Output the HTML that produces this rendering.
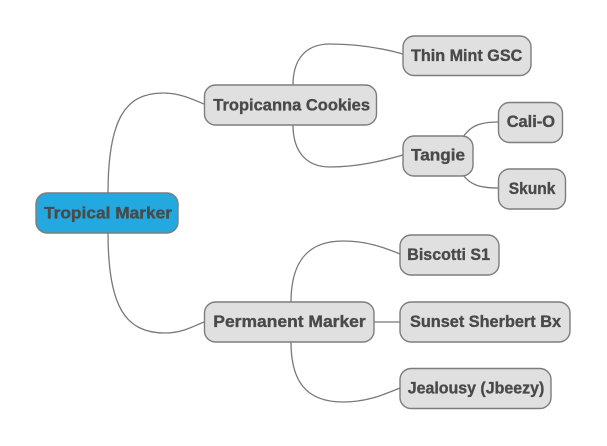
<!DOCTYPE html>
<html><head><meta charset="utf-8"><style>
html,body{margin:0;padding:0;background:#fff;}
svg{display:block;}
text{font-family:"Liberation Sans",sans-serif;font-weight:bold;font-size:16.5px;fill:#4a4a4a;stroke:#4a4a4a;stroke-width:0.35;}
</style></head><body>
<svg width="607" height="446" viewBox="0 0 607 446" xmlns="http://www.w3.org/2000/svg">
<g fill="none" stroke="#787878" stroke-width="1.3">
<path d="M108,193 C108,120 125,93 163,93 C182,93 196,101 204,104"/>
<path d="M108,233 C108,306 125,333 165,333 C183,333 196,325 204,322"/>
<path d="M293,85 C293,60 305,44 330,44 C360,44 385,49 403,54"/>
<path d="M293,125 C293,150 305,167 330,167 C360,167 385,160 403,155"/>
<path d="M463,137 C470,127 478,122 498,122"/>
<path d="M463,175 C470,184 478,188 498,188"/>
<path d="M291,302 C291,265 305,241 343,241 C368,241 385,248 400,254"/>
<path d="M291,342 C291,380 305,402 343,402 C368,402 385,394 400,388"/>
<path d="M374,322 L400,322"/>
</g>
<g stroke="#7d7d7d" stroke-width="1.4">
<rect x="36" y="193" width="142" height="40" rx="11" fill="#23a8df"/>
<rect x="204.5" y="85" width="172" height="40" rx="11" fill="#e0e0e0"/>
<rect x="403" y="36" width="128" height="39.5" rx="11" fill="#e0e0e0"/>
<rect x="403" y="136" width="70" height="40" rx="11" fill="#e0e0e0"/>
<rect x="498.5" y="102.5" width="64" height="40" rx="11" fill="#e0e0e0"/>
<rect x="498.5" y="169" width="67" height="40" rx="11" fill="#e0e0e0"/>
<rect x="204.5" y="302" width="169.5" height="40" rx="11" fill="#e0e0e0"/>
<rect x="400" y="235" width="99" height="40" rx="11" fill="#e0e0e0"/>
<rect x="400" y="302" width="170" height="40" rx="11" fill="#e0e0e0"/>
<rect x="400" y="368.5" width="151" height="40" rx="11" fill="#e0e0e0"/>
</g>
<text x="44" y="218.5" textLength="128" lengthAdjust="spacingAndGlyphs">Tropical Marker</text>
<text x="213.3" y="110.5" textLength="156.7" lengthAdjust="spacingAndGlyphs">Tropicanna Cookies</text>
<text x="411" y="61" textLength="111.3" lengthAdjust="spacingAndGlyphs">Thin Mint GSC</text>
<text x="411" y="160.5" textLength="54" lengthAdjust="spacingAndGlyphs">Tangie</text>
<text x="506.7" y="127.2" textLength="48.3" lengthAdjust="spacingAndGlyphs">Cali-O</text>
<text x="508.7" y="194" textLength="46.7" lengthAdjust="spacingAndGlyphs">Skunk</text>
<text x="213.3" y="327" textLength="152.4" lengthAdjust="spacingAndGlyphs">Permanent Marker</text>
<text x="407.3" y="260" textLength="82.7" lengthAdjust="spacingAndGlyphs">Biscotti S1</text>
<text x="410" y="327" textLength="151" lengthAdjust="spacingAndGlyphs">Sunset Sherbert Bx</text>
<text x="407.7" y="393.5" textLength="136.6" lengthAdjust="spacingAndGlyphs">Jealousy (Jbeezy)</text>
</svg>
</body></html>
